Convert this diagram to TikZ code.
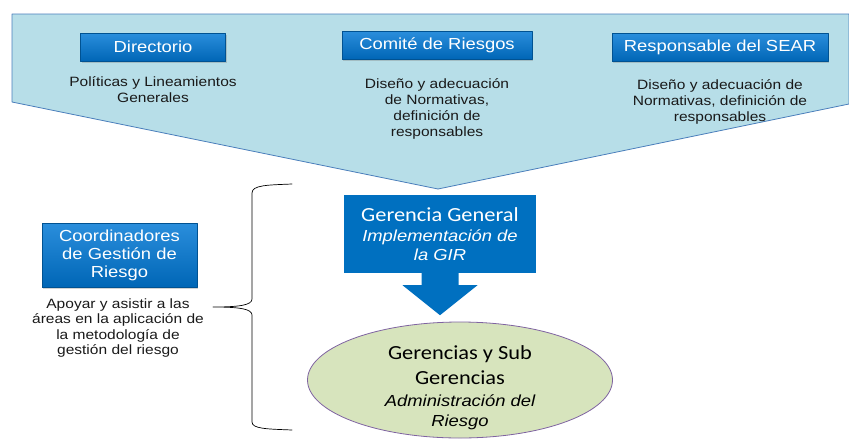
\documentclass[tikz,border=0pt]{standalone}
\usepackage{fontspec}
\setmainfont{Liberation Sans}[FakeStretch=1.15]
\newfontfamily\calib{Carlito}[FakeStretch=1.12]
\usetikzlibrary{shapes.geometric,shadows}
\definecolor{celeste}{HTML}{B7DEE8}
\definecolor{bordeceleste}{HTML}{4A7EBB}
\definecolor{azulclaro}{HTML}{2A8EDC}
\definecolor{azuloscuro}{HTML}{0066B6}
\definecolor{azul}{HTML}{0070C0}
\definecolor{verde}{HTML}{D7E4BD}
\definecolor{lila}{HTML}{7F63A1}
\newcommand{\gran}{\calib\upshape\fontsize{20}{23}\selectfont}
\begin{document}
\begin{tikzpicture}[x=1pt,y=-1pt, line join=round, line cap=round,
	caja/.style={rectangle, inner sep=0pt, top color=azulclaro, bottom color=azuloscuro, draw=azuloscuro!80!black, line width=0.4pt, text=white, align=center, drop shadow={opacity=0.35, shadow xshift=1pt, shadow yshift=-1.5pt}, font=\fontsize{16}{18}\selectfont},
	texto/.style={align=center, inner sep=0pt, text=black!90, font=\fontsize{13.5}{16}\selectfont}]
	\useasboundingbox (0,0) rectangle (849,440);
	% franja superior
	\draw[fill=celeste, draw=bordeceleste, line width=0.8pt] (12,14) -- (849,14) -- (849,104) -- (438,189) -- (12,102) -- cycle;
	\node[caja, minimum width=145pt, minimum height=28pt] (dir) at (153,47) {Directorio};
	\node[caja, minimum width=190pt, minimum height=28pt] (comite) at (437,45) {Comité de Riesgos};
	\node[caja, minimum width=216pt, minimum height=28pt] (sear) at (720,47) {Responsable del SEAR};
	\node[texto] (tdir) at (153,90) {Políticas y Lineamientos\\Generales};
	\node[texto] (tcomite) at (437,109) {Diseño y adecuación\\de Normativas,\\definición de\\responsables};
	\node[texto] (tsear) at (720,102) {Diseño y adecuación de\\Normativas, definición de\\responsables};
	% gerencia general y flecha
	\node[rectangle, fill=azul, text=white, align=center, inner sep=0pt, minimum width=192pt, minimum height=78pt, font=\fontsize{16}{17}\selectfont\itshape] (gg) at (440,234)
		{{\gran Gerencia General}\\[3pt]Implementación de\\[2pt]la GIR};
	\fill[azul] ([xshift=-18.5pt]gg.south) -- ++(0,12) -- ++(-19,0) -- ([yshift=-42pt]gg.south) -- ++(37.5,-30) -- ++(-19,0) -- ++(0,-12) -- cycle;
	% gerencias y sub gerencias
	\node[ellipse, fill=verde, draw=lila, line width=0.8pt, minimum width=305pt, minimum height=116pt] (sub) at (460,380) {};
	\node[align=center, inner sep=0pt, font=\fontsize{16}{17}\selectfont\itshape] (tsub) at (460,388)
		{{\gran Gerencias y Sub}\\[8pt]{\gran Gerencias}\\[5pt]Administración del\\[3pt]Riesgo};
	% coordinadores
	\node[caja, minimum width=155pt, minimum height=64pt] (coord) at (119.5,255) {Coordinadores\\de Gestión de\\Riesgo};
	\node[texto, font=\fontsize{13.5}{15.5}\selectfont] (tcoord) at (118,328) {Apoyar y asistir a las\\áreas en la aplicación de\\la metodología de\\gestión del riesgo};
	\draw[line width=0.7pt] (292,184) .. controls (268,185) and (252,185) .. (252,193) -- (252,299) .. controls (252,305) and (240,307) .. (213,307) .. controls (240,307) and (252,309) .. (252,315) -- (252,422) .. controls (252,429) and (268,429) .. (292,430);
\end{tikzpicture}
\end{document}
